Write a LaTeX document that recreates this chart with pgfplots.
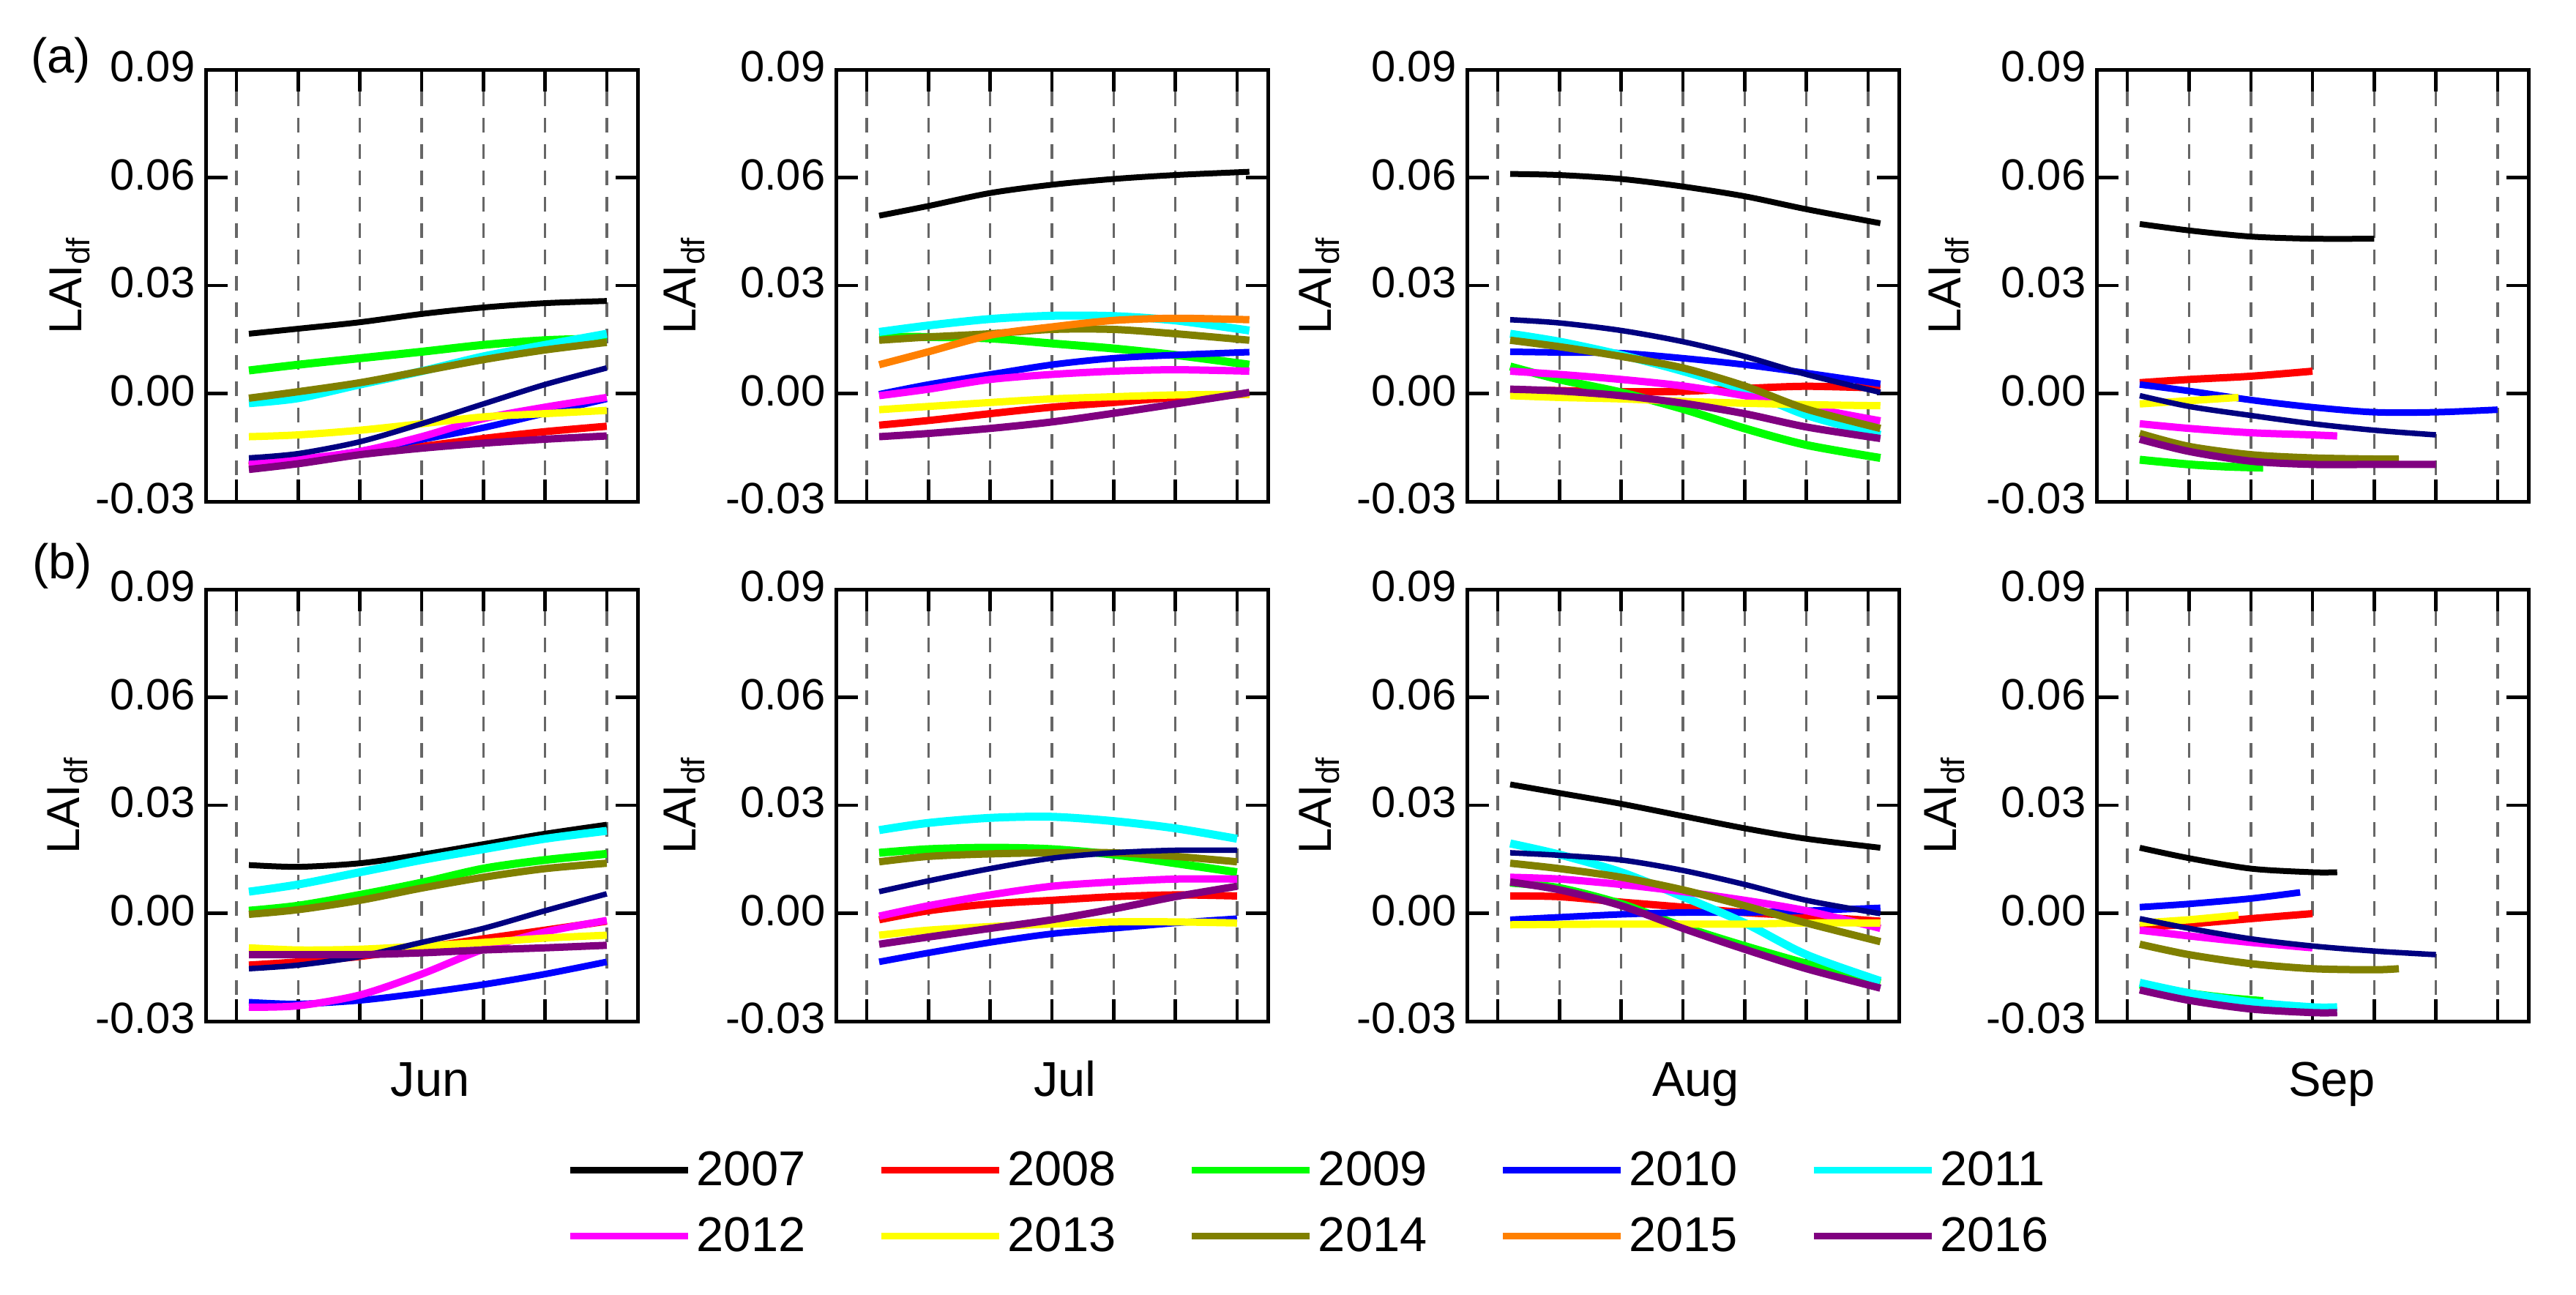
\documentclass[border=0pt]{standalone}
\usepackage{fontspec}
\setmainfont{Liberation Sans}
\usepackage{pgfplots}
\pgfplotsset{compat=1.18}

\definecolor{cBlack}{RGB}{0,0,0}
\definecolor{cRed}{RGB}{255,0,0}
\definecolor{cGreen}{RGB}{0,255,0}
\definecolor{cBlue}{RGB}{0,0,255}
\definecolor{cCyan}{RGB}{0,255,255}
\definecolor{cMagenta}{RGB}{255,0,255}
\definecolor{cYellow}{RGB}{255,255,0}
\definecolor{cOlive}{RGB}{128,128,0}
\definecolor{cOrange}{RGB}{255,128,0}
\definecolor{cPurple}{RGB}{128,0,128}
\definecolor{cNavy}{RGB}{0,0,128}

\tikzset{
  y07/.style={draw=cBlack, line width=0.8mm},
  y08/.style={draw=cRed, line width=1mm},
  y09/.style={draw=cGreen, line width=1.1mm},
  y10/.style={draw=cBlue, line width=0.9mm},
  y11/.style={draw=cCyan, line width=1.1mm},
  y12/.style={draw=cMagenta, line width=1mm},
  y13/.style={draw=cYellow, line width=1mm},
  y14/.style={draw=cOlive, line width=1mm},
  y15/.style={draw=cOrange, line width=1mm},
  y15n/.style={draw=cNavy, line width=0.75mm},
  y16/.style={draw=cPurple, line width=1mm},
}

% one curve: style, coordinates
\newcommand{\yr}[2]{\addplot[#1, forget plot, smooth, no marks] coordinates {#2};}

\pgfplotsset{
  panel/.style={
    scale only axis, width=59mm, height=59mm, anchor=north west,
    xmin=-2.5, xmax=32.5, ymin=-0.03, ymax=0.09,
    xtick={0,5,...,30}, xticklabels={},
    ytick={-0.03,0,0.03,0.06,0.09},
    scaled y ticks=false,
    yticklabel style={/pgf/number format/fixed, /pgf/number format/precision=2,
      /pgf/number format/fixed zerofill, /pgf/number format/assume math mode=true,
      font=\fontsize{17pt}{17pt}\selectfont, inner sep=0pt, xshift=-1.4mm, yshift=0.4mm},
    tick align=inside, major tick length=3mm,
    tick style={black, line width=0.45mm},
    axis line style={line width=0.5mm},
    xmajorgrids=true, ymajorgrids=false,
    major grid style={draw=black!60, line width=0.35mm, dash pattern=on 2mm off 1.6mm},
    ylabel={LAI\textsubscript{df}},
    label style={font=\fontsize{18pt}{18pt}\selectfont},
    xlabel style={font=\fontsize{19pt}{19pt}\selectfont, anchor=base, yshift=-10.2mm},
  },
  ypos/.style={ylabel style={at={(axis description cs:#1,0.5)}, anchor=center}},
  xpos/.style={xlabel style={at={(axis description cs:#1,0)}}},
}

\begin{document}
\begin{tikzpicture}
\useasboundingbox (0,0) rectangle (351.9mm,-176.8mm);

\node[font=\fontsize{19pt}{19pt}\selectfont] at (8.3mm,-8.2mm) {(a)};
\node[font=\fontsize{19pt}{19pt}\selectfont] at (8.5mm,-77.3mm) {(b)};

% ---------------- (a) Jun
\begin{axis}[panel, at={(28.1mm,-9.5mm)}, ypos=-0.314]
\yr{y07}{(1,0.0166) (5,0.0180) (10,0.0198) (15,0.0221) (20,0.0239) (25,0.0251) (30,0.0257)}
\yr{y08}{(1,-0.0202) (5,-0.0185) (10,-0.0165) (15,-0.0147) (20,-0.0125) (25,-0.0106) (30,-0.0091)}
\yr{y09}{(1,0.0064) (5,0.0080) (10,0.0098) (15,0.0116) (20,0.0135) (25,0.0148) (30,0.0153)}
\yr{y10}{(1,-0.0195) (5,-0.0185) (10,-0.0160) (15,-0.0128) (20,-0.0095) (25,-0.0055) (30,-0.0015)}
\yr{y11}{(1,-0.0027) (5,-0.0013) (10,0.0025) (15,0.0062) (20,0.0103) (25,0.0135) (30,0.0166)}
\yr{y12}{(1,-0.0197) (5,-0.0183) (10,-0.0161) (15,-0.0120) (20,-0.0070) (25,-0.0038) (30,-0.0011)}
\yr{y13}{(1,-0.0120) (5,-0.0115) (10,-0.0102) (15,-0.0084) (20,-0.0065) (25,-0.0056) (30,-0.0047)}
\yr{y14}{(1,-0.0013) (5,0.0005) (10,0.0030) (15,0.0062) (20,0.0094) (25,0.0121) (30,0.0142)}
\yr{y15n}{(1,-0.0179) (5,-0.0167) (10,-0.0134) (15,-0.0084) (20,-0.0029) (25,0.0025) (30,0.0071)}
\yr{y16}{(1,-0.0211) (5,-0.0195) (10,-0.0170) (15,-0.0152) (20,-0.0138) (25,-0.0127) (30,-0.0118)}
\end{axis}

% ---------------- (a) Jul
\begin{axis}[panel, at={(114.2mm,-9.5mm)}, ypos=-0.351]
\yr{y07}{(1,0.0494) (5,0.0521) (10,0.0557) (15,0.0580) (20,0.0596) (25,0.0607) (31,0.0616)}
\yr{y08}{(1,-0.0088) (5,-0.0075) (10,-0.0056) (15,-0.0038) (20,-0.0025) (25,-0.0011) (31,-0.0002)}
\yr{y09}{(1,0.0157) (5,0.0157) (10,0.0153) (15,0.0139) (20,0.0125) (25,0.0107) (31,0.0080)}
\yr{y10}{(1,-0.0002) (5,0.0025) (10,0.0053) (15,0.0080) (20,0.0098) (25,0.0107) (31,0.0115)}
\yr{y11}{(1,0.0171) (5,0.0189) (10,0.0207) (15,0.0216) (20,0.0215) (25,0.0203) (31,0.0175)}
\yr{y12}{(1,-0.0006) (5,0.0012) (10,0.0039) (15,0.0053) (20,0.0062) (25,0.0066) (31,0.0062)}
\yr{y13}{(1,-0.0045) (5,-0.0036) (10,-0.0025) (15,-0.0015) (20,-0.0009) (25,-0.0004) (31,-0.0002)}
\yr{y14}{(1,0.0148) (5,0.0157) (10,0.0166) (15,0.0178) (20,0.0178) (25,0.0166) (31,0.0148)}
\yr{y15}{(1,0.0080) (5,0.0116) (10,0.0162) (15,0.0185) (20,0.0203) (25,0.0209) (31,0.0205)}
\yr{y16}{(1,-0.0120) (5,-0.0111) (10,-0.0097) (15,-0.0079) (20,-0.0055) (25,-0.0029) (31,0.0003)}
\end{axis}

% ---------------- (a) Aug
\begin{axis}[panel, at={(200.4mm,-9.5mm)}, ypos=-0.342]
\yr{y07}{(1,0.0610) (5,0.0607) (10,0.0596) (15,0.0575) (20,0.0548) (25,0.0512) (31,0.0473)}
\yr{y08}{(1,0.0010) (5,0.0008) (10,0.0005) (15,0.0006) (20,0.0014) (25,0.0020) (31,0.0015)}
\yr{y09}{(1,0.0075) (5,0.0039) (10,0.0003) (15,-0.0043) (20,-0.0097) (25,-0.0143) (31,-0.0179)}
\yr{y10}{(1,0.0116) (5,0.0114) (10,0.0112) (15,0.0098) (20,0.0080) (25,0.0057) (31,0.0027)}
\yr{y11}{(1,0.0166) (5,0.0144) (10,0.0107) (15,0.0062) (20,0.0010) (25,-0.0060) (31,-0.0115)}
\yr{y12}{(1,0.0062) (5,0.0053) (10,0.0039) (15,0.0021) (20,-0.0006) (25,-0.0038) (31,-0.0076)}
\yr{y13}{(1,-0.0006) (5,-0.0011) (10,-0.0015) (15,-0.0022) (20,-0.0027) (25,-0.0031) (31,-0.0034)}
\yr{y14}{(1,0.0148) (5,0.0130) (10,0.0103) (15,0.0071) (20,0.0021) (25,-0.0043) (31,-0.0097)}
\yr{y15n}{(1,0.0205) (5,0.0196) (10,0.0175) (15,0.0144) (20,0.0103) (25,0.0053) (31,0.0003)}
\yr{y16}{(1,0.0012) (5,0.0007) (10,-0.0006) (15,-0.0027) (20,-0.0056) (25,-0.0093) (31,-0.0125)}
\end{axis}

% ---------------- (a) Sep
\begin{axis}[panel, at={(286.4mm,-9.5mm)}, ypos=-0.341]
\yr{y07}{(1,0.0471) (5,0.0453) (10,0.0436) (15,0.0430) (20,0.0430)}
\yr{y08}{(1,0.0030) (5,0.0039) (10,0.0048) (15,0.0062)}
\yr{y09}{(1,-0.0184) (5,-0.0197) (8,-0.0203) (11,-0.0206)}
\yr{y10}{(1,0.0025) (5,0.0007) (10,-0.0018) (15,-0.0038) (20,-0.0052) (25,-0.0052) (30,-0.0045)}
\yr{y12}{(1,-0.0084) (5,-0.0097) (10,-0.0109) (15,-0.0115) (17,-0.0118)}
\yr{y13}{(1,-0.0029) (5,-0.0020) (9,-0.0011)}
\yr{y14}{(1,-0.0111) (5,-0.0147) (10,-0.0170) (15,-0.0179) (20,-0.0182) (22,-0.0182)}
\yr{y15n}{(1,-0.0006) (5,-0.0036) (10,-0.0061) (15,-0.0084) (20,-0.0102) (25,-0.0115)}
\yr{y16}{(1,-0.0127) (5,-0.0161) (10,-0.0188) (15,-0.0197) (20,-0.0197) (25,-0.0197)}
\end{axis}

% ---------------- (b) Jun
\begin{axis}[panel, at={(28.1mm,-80.5mm)}, ypos=-0.320, xlabel={Jun}, xpos=0.52,
  legend columns=5,
  legend image code/.code={\draw[#1, line width=0.9mm] (0mm,0mm) -- (16.1mm,0mm);},
  legend style={at={(2.558,-0.421)}, anchor=center, draw=none, fill=none,
    font=\fontsize{19pt}{19pt}\selectfont, row sep=2.8mm,
    nodes={inner xsep=0.7mm, inner ysep=0.5mm},
    /tikz/every even column/.append style={column sep=9.2mm}},
  legend cell align=left]
\yr{y07}{(1,0.0134) (5,0.0129) (10,0.0139) (15,0.0163) (20,0.0192) (25,0.0221) (30,0.0246)}
\yr{y08}{(1,-0.0144) (5,-0.0135) (10,-0.0120) (15,-0.0096) (20,-0.0071) (25,-0.0047) (30,-0.0022)}
\yr{y09}{(1,0.0007) (5,0.0021) (10,0.0051) (15,0.0085) (20,0.0124) (25,0.0148) (30,0.0165)}
\yr{y10}{(1,-0.0247) (5,-0.0252) (10,-0.0242) (15,-0.0222) (20,-0.0198) (25,-0.0169) (30,-0.0135)}
\yr{y11}{(1,0.0060) (5,0.0080) (10,0.0114) (15,0.0148) (20,0.0178) (25,0.0207) (30,0.0229)}
\yr{y12}{(1,-0.0261) (5,-0.0257) (10,-0.0227) (15,-0.0169) (20,-0.0100) (25,-0.0052) (30,-0.0020)}
\yr{y13}{(1,-0.0096) (5,-0.0102) (10,-0.0100) (15,-0.0091) (20,-0.0081) (25,-0.0069) (30,-0.0061)}
\yr{y14}{(1,-0.0003) (5,0.0010) (10,0.0036) (15,0.0070) (20,0.0100) (25,0.0124) (30,0.0139)}
\yr{y15n}{(1,-0.0154) (5,-0.0144) (10,-0.0120) (15,-0.0081) (20,-0.0042) (25,0.0007) (30,0.0054)}
\yr{y16}{(1,-0.0115) (5,-0.0115) (10,-0.0115) (15,-0.0110) (20,-0.0102) (25,-0.0096) (30,-0.0089)}
\addlegendimage{y07}\addlegendentry{2007}
\addlegendimage{y08}\addlegendentry{2008}
\addlegendimage{y09}\addlegendentry{2009}
\addlegendimage{y10}\addlegendentry{2010}
\addlegendimage{y11}\addlegendentry{2011}
\addlegendimage{y12}\addlegendentry{2012}
\addlegendimage{y13}\addlegendentry{2013}
\addlegendimage{y14}\addlegendentry{2014}
\addlegendimage{y15}\addlegendentry{2015}
\addlegendimage{y16}\addlegendentry{2016}
\end{axis}

% ---------------- (b) Jul
\begin{axis}[panel, at={(114.2mm,-80.5mm)}, ypos=-0.351, xlabel={Jul}, xpos=0.53]
\yr{y08}{(1,-0.0018) (5,0.0007) (10,0.0026) (15,0.0036) (20,0.0046) (25,0.0051) (30,0.0048)}
\yr{y09}{(1,0.0168) (5,0.0178) (10,0.0182) (15,0.0178) (20,0.0163) (25,0.0139) (30,0.0114)}
\yr{y10}{(1,-0.0135) (5,-0.0110) (10,-0.0081) (15,-0.0057) (20,-0.0042) (25,-0.0027) (30,-0.0015)}
\yr{y11}{(1,0.0231) (5,0.0251) (10,0.0265) (15,0.0268) (20,0.0256) (25,0.0236) (30,0.0207)}
\yr{y12}{(1,-0.0008) (5,0.0021) (10,0.0051) (15,0.0075) (20,0.0087) (25,0.0095) (30,0.0095)}
\yr{y13}{(1,-0.0061) (5,-0.0047) (10,-0.0037) (15,-0.0030) (20,-0.0024) (25,-0.0024) (30,-0.0027)}
\yr{y14}{(1,0.0143) (5,0.0158) (10,0.0165) (15,0.0168) (20,0.0168) (25,0.0158) (30,0.0143)}
\yr{y15n}{(1,0.0060) (5,0.0090) (10,0.0124) (15,0.0153) (20,0.0168) (25,0.0175) (30,0.0175)}
\yr{y16}{(1,-0.0086) (5,-0.0066) (10,-0.0042) (15,-0.0018) (20,0.0012) (25,0.0046) (30,0.0075)}
\end{axis}

% ---------------- (b) Aug
\begin{axis}[panel, at={(200.4mm,-80.5mm)}, ypos=-0.342, xlabel={Aug}, xpos=0.53]
\yr{y07}{(1,0.0358) (5,0.0334) (10,0.0304) (15,0.0270) (20,0.0236) (25,0.0207) (31,0.0182)}
\yr{y08}{(1,0.0048) (5,0.0046) (10,0.0031) (15,0.0017) (20,0.0002) (25,-0.0008) (31,-0.0022)}
\yr{y09}{(1,0.0085) (5,0.0070) (10,0.0026) (15,-0.0037) (20,-0.0091) (25,-0.0140) (31,-0.0193)}
\yr{y10}{(1,-0.0018) (5,-0.0011) (10,-0.0003) (15,0.0002) (20,0.0002) (25,0.0007) (31,0.0015)}
\yr{y11}{(1,0.0194) (5,0.0163) (10,0.0114) (15,0.0046) (20,-0.0027) (25,-0.0115) (31,-0.0188)}
\yr{y12}{(1,0.0100) (5,0.0095) (10,0.0080) (15,0.0060) (20,0.0036) (25,0.0007) (31,-0.0042)}
\yr{y13}{(1,-0.0032) (5,-0.0031) (10,-0.0030) (15,-0.0030) (20,-0.0030) (25,-0.0027) (31,-0.0027)}
\yr{y14}{(1,0.0139) (5,0.0124) (10,0.0100) (15,0.0065) (20,0.0021) (25,-0.0027) (31,-0.0079)}
\yr{y15n}{(1,0.0168) (5,0.0161) (10,0.0148) (15,0.0119) (20,0.0080) (25,0.0036) (31,-0.0001)}
\yr{y16}{(1,0.0087) (5,0.0065) (10,0.0021) (15,-0.0042) (20,-0.0100) (25,-0.0154) (31,-0.0208)}
\end{axis}

% ---------------- (b) Sep
\begin{axis}[panel, at={(286.4mm,-80.5mm)}, ypos=-0.352, xlabel={Sep}, xpos=0.545]
\yr{y07}{(1,0.0182) (5,0.0153) (10,0.0124) (15,0.0114) (17,0.0114)}
\yr{y08}{(1,-0.0040) (5,-0.0030) (10,-0.0015) (15,-0.0001)}
\yr{y09}{(1,-0.0198) (5,-0.0222) (8,-0.0235) (11,-0.0244)}
\yr{y10}{(1,0.0017) (5,0.0026) (10,0.0041) (14,0.0058)}
\yr{y11}{(1,-0.0193) (5,-0.0222) (10,-0.0247) (15,-0.0261) (17,-0.0261)}
\yr{y12}{(1,-0.0047) (5,-0.0063) (10,-0.0081) (15,-0.0096)}
\yr{y13}{(1,-0.0027) (5,-0.0018) (9,-0.0005)}
\yr{y14}{(1,-0.0086) (5,-0.0115) (10,-0.0140) (15,-0.0154) (20,-0.0157) (22,-0.0154)}
\yr{y15n}{(1,-0.0015) (5,-0.0042) (10,-0.0071) (15,-0.0091) (20,-0.0105) (25,-0.0115)}
\yr{y16}{(1,-0.0213) (5,-0.0242) (10,-0.0266) (15,-0.0276) (17,-0.0276)}
\end{axis}
\end{tikzpicture}
\end{document}
